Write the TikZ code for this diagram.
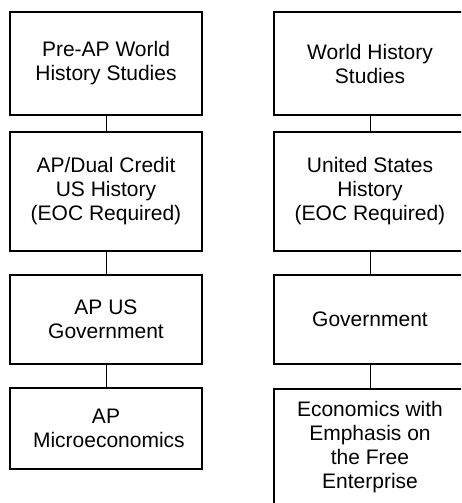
\documentclass[tikz,border=0pt]{standalone}
\usepackage{fontspec}
\setmainfont{Liberation Sans}
\begin{document}
\begin{tikzpicture}[x=1pt,y=-1pt,
  box/.style={draw=black,line width=2pt,minimum width=192pt,inner sep=0pt,align=center,
    font=\fontsize{21}{24}\selectfont},
  txt/.style={inner sep=0pt,align=center,font=\fontsize{21}{24}\selectfont},
  link/.style={draw=black,line width=1pt}]
\useasboundingbox (0,0) rectangle (461,503);
\clip (0,0) rectangle (461,503);
\fill[white] (0,0) rectangle (461,503);
% left column
\node[box,minimum height=103pt] (L1) at (106,63.5) {Pre-AP World\\History Studies};
\node[box,minimum height=119pt] (L2) at (106,191.5) {AP/Dual Credit\\US History\\(EOC Required)};
\node[box,minimum height=89pt] (L3) at (106,319.5) {AP US\\Government};
\node[box,minimum height=81pt] (L4) at (106,428.5) {AP\\\ Microeconomics};
% right column
\node[box,minimum height=103pt] (R1) at (370,63.5) {World History\\Studies};
\node[box,minimum height=119pt] (R2) at (370,191.5) {United States\\History\\(EOC Required)};
\node[box,minimum height=89pt] (R3) at (370,319.5) {Government};
\node[box,minimum height=150pt,anchor=north] (R4) at (370,388) {};
\node[txt] (R4t) at (370,447) {Economics with\\Emphasis on\\the Free\\Enterprise};
% connectors
\draw[link] (L1.south) -- (L2.north);
\draw[link] (L2.south) -- (L3.north);
\draw[link] (L3.south) -- (L4.north);
\draw[link] (R1.south) -- (R2.north);
\draw[link] (R2.south) -- (R3.north);
\draw[link] (R3.south) -- (R4.north);
\end{tikzpicture}
\end{document}
